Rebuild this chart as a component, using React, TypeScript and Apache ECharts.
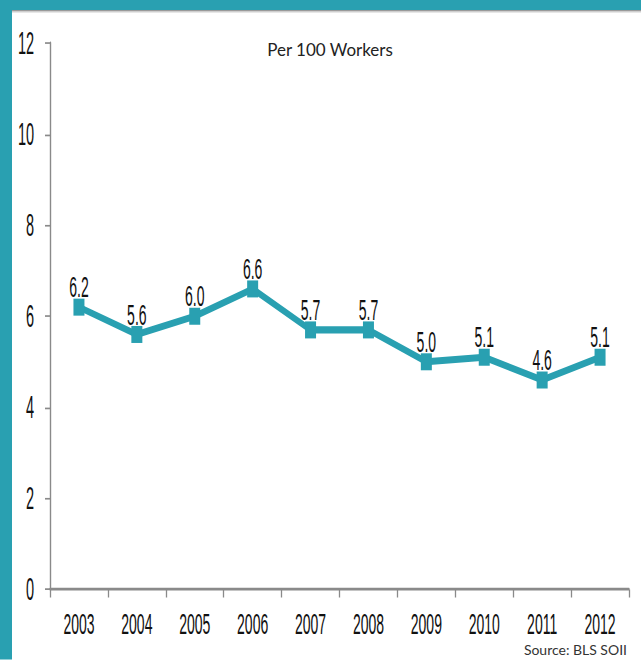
import React, { useEffect, useRef } from "react";
import * as echarts from "echarts";

const years = ["2003", "2004", "2005", "2006", "2007", "2008", "2009", "2010", "2011", "2012"];
const rates = [6.2, 5.6, 6.0, 6.6, 5.7, 5.7, 5.0, 5.1, 4.6, 5.1];
const yTicks = { min: 0, max: 12, interval: 2 };
const titleText = "Per 100 Workers";
const sourceText = "Source: BLS SOII";

const W = 641;
const H = 660;
const S = 2.1; // vertical stretch of the plot
const CH = H / S;
const TEAL = "#29a0b1";
const FONT = "'Liberation Sans', Arial, sans-serif";

export default function App() {
  const ref = useRef<HTMLDivElement>(null);
  useEffect(() => {
    if (!ref.current) return;
    const chart = echarts.init(ref.current, null, { renderer: "svg", width: W, height: CH });
    chart.setOption({
      animation: false,
      backgroundColor: "#ffffff",
      grid: { left: 50, right: 12, top: 43 / S, bottom: CH - 589.5 / S, containLabel: false },
      xAxis: {
        type: "category",
        data: years,
        boundaryGap: true,
        axisLine: { lineStyle: { color: "#8a8a8a", width: 1.3 } },
        axisTick: { show: true, length: 8 / S, inside: false, lineStyle: { color: "#8a8a8a", width: 1.3 } },
        axisLabel: { color: "#111", fontFamily: FONT, fontSize: 14, margin: 9.5 },
        splitLine: { show: false },
      },
      yAxis: {
        type: "value",
        min: yTicks.min,
        max: yTicks.max,
        interval: yTicks.interval,
        axisLine: { show: true, lineStyle: { color: "#8a8a8a", width: 1.4 } },
        axisTick: { show: true, length: 5, lineStyle: { color: "#8a8a8a", width: 0.8 } },
        axisLabel: { color: "#111", fontFamily: FONT, fontSize: 14.5, margin: 16 },
        splitLine: { show: false },
      },
      graphic: [
        { type: "rect", shape: { x: 0, y: 0, width: W, height: 10 / S }, style: { fill: TEAL }, z: 100 },
        { type: "rect", shape: { x: 12, y: 10 / S, width: W - 12, height: 1.5 / S }, style: { fill: "#9a9a9a" }, z: 100 },
        { type: "rect", shape: { x: 12, y: 11.5 / S, width: W - 12, height: 1 / S }, style: { fill: "#cfcfcf" }, z: 100 },
        { type: "rect", shape: { x: 0, y: 0, width: 12, height: CH }, style: { fill: TEAL }, z: 100 },
        {
          type: "text",
          x: 330,
          y: 50 / S,
          scaleY: 1 / S,
          style: {
            text: titleText,
            fill: "#222",
            font: "17px Lato, 'Open Sans', sans-serif",
            textAlign: "center",
            textVerticalAlign: "middle",
          },
        },
        {
          type: "text",
          x: 627,
          y: 650 / S,
          scaleY: 1 / S,
          style: {
            text: sourceText,
            fill: "#333",
            font: "14px Lato, 'Open Sans', sans-serif",
            textAlign: "right",
            textVerticalAlign: "middle",
          },
        },
      ],
      series: [
        {
          type: "line",
          data: rates,
          symbol: "rect",
          symbolSize: [11, 17 / S],
          showAllSymbol: true,
          lineStyle: { color: TEAL, width: 3.4 },
          itemStyle: { color: TEAL },
          label: {
            show: true,
            position: "top",
            distance: -1.5,
            color: "#111",
            fontFamily: FONT,
            fontSize: 14,
            formatter: (p: any) => Number(p.value).toFixed(1),
          },
        },
      ],
    });
    return () => chart.dispose();
  }, []);

  return (
    <div style={{ position: "fixed", left: 0, top: 0, width: W, height: H, overflow: "hidden", background: "#fff" }}>
      <div
        ref={ref}
        style={{ width: W, height: CH, transform: `scaleY(${S})`, transformOrigin: "0 0" }}
      />
    </div>
  );
}
